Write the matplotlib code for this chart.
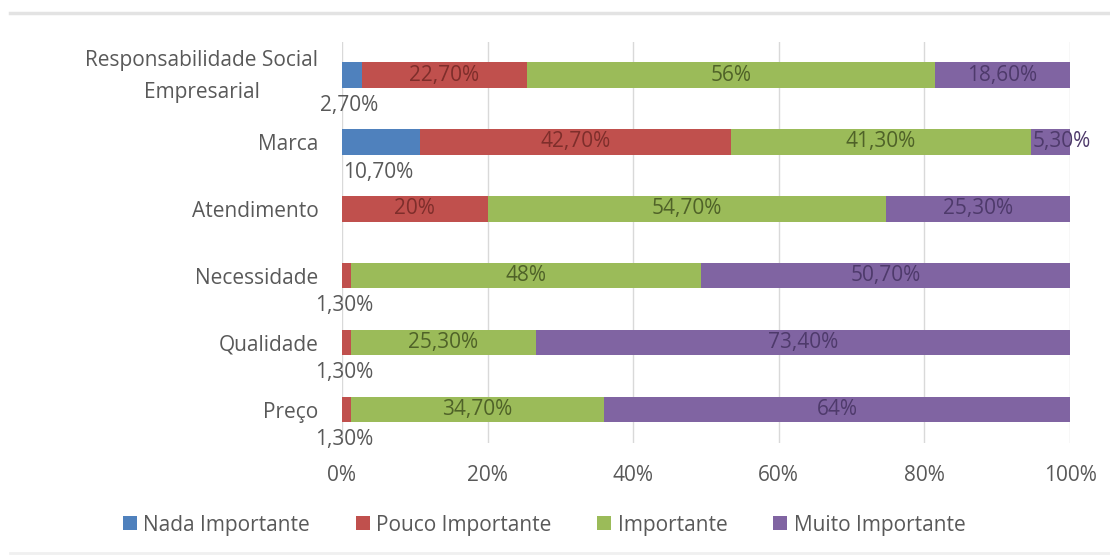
import matplotlib
matplotlib.use("Agg")
import matplotlib.pyplot as plt
import matplotlib.transforms as mtransforms
from matplotlib.patches import Patch
from matplotlib.lines import Line2D
import numpy as np

plt.rcParams['font.family'] = ['Open Sans', 'DejaVu Sans']

categorias = ['Responsabilidade Social\nEmpresarial', 'Marca', 'Atendimento',
              'Necessidade', 'Qualidade', 'Preço']
series = ['Nada Importante', 'Pouco Importante', 'Importante', 'Muito Importante']
nada = [2.7, 10.7, 0, 0, 0, 0]
pouco = [22.7, 42.7, 20, 1.3, 1.3, 1.3]
importante = [56, 41.3, 54.7, 48, 25.3, 34.7]
muito = [18.6, 5.3, 25.3, 50.7, 73.4, 64]
cores = ['#4F81BD', '#C0504D', '#9BBB59', '#8064A2']
cores_txt = ['#2E4F7A', '#7E2E2B', '#4F6228', '#4E3A6B']
cinza = '#595959'
fs = 15

valores = [nada, pouco, importante, muito]


def rotulo(v):
    if v == int(v):
        return '%d%%' % v
    return ('%.2f%%' % v).replace('.', ',')


fig = plt.figure(figsize=(11.1, 5.55), dpi=100)
ax = fig.add_axes([0.308, 0.2018, 0.656, 0.7232])

y = np.arange(len(categorias))
esq = np.zeros(len(categorias))
for i, (nome, vals) in enumerate(zip(series, valores)):
    vals = np.array(vals, dtype=float)
    ax.barh(y, vals, left=esq, height=0.38, color=cores[i], label=nome, zorder=2)
    for j, v in enumerate(vals):
        if v == 0:
            continue
        txt = rotulo(v)
        cx = esq[j] + v / 2
        if i == 0 or v < 2:
            # valores pequenos ficam abaixo da barra
            ax.text(cx - 0.4, y[j] + 0.45, txt, ha='center', va='center',
                    color=cinza, fontsize=fs, zorder=3)
        elif i == 3 and v < 10:
            ax.text(esq[j] + 0.2, y[j], txt, ha='left', va='center',
                    color=cores_txt[i], fontsize=fs, zorder=3)
        else:
            ax.text(cx, y[j], txt, ha='center', va='center',
                    color=cores_txt[i], fontsize=fs, zorder=3)
    esq += vals

ax.set_xlim(0, 100)
ax.set_ylim(len(categorias) - 0.5, -0.5)
ax.set_xticks(np.arange(0, 101, 20))
ax.set_xticklabels(['%d%%' % t for t in range(0, 101, 20)])
ax.set_yticks(y)
ax.set_yticklabels(categorias, ha='right', multialignment='center', linespacing=1.7)
ax.tick_params(length=0, colors=cinza, labelsize=fs)
ax.tick_params(axis='y', pad=17)
ax.tick_params(axis='x', pad=16)
ax.grid(axis='x', color='#D9D9D9', linewidth=1, zorder=0)
for s in ax.spines.values():
    s.set_visible(False)

# sobe um pouco o rótulo de duas linhas
lbl = ax.get_yticklabels()[0]
lbl.set_transform(lbl.get_transform() +
                  mtransforms.ScaledTranslation(0, 5 / 72, fig.dpi_scale_trans))

handles = [Patch(facecolor=c, edgecolor='none') for c in cores]
fig.legend(handles, series, loc='center', bbox_to_anchor=(0.490, 0.054),
           ncol=4, frameon=False, fontsize=fs, handlelength=0.68,
           handleheight=0.68, handletextpad=0.3, columnspacing=2.2,
           labelcolor=cinza)

# faixas cinza de cima e de baixo
fig.add_artist(Line2D([0.009, 1], [0.976, 0.976], color='#E3E3E3', linewidth=2.5))
fig.add_artist(Line2D([0.009, 1], [0.004, 0.004], color='#F0F0F0', linewidth=2))

fig.savefig('out.png', dpi=100, facecolor='white')
